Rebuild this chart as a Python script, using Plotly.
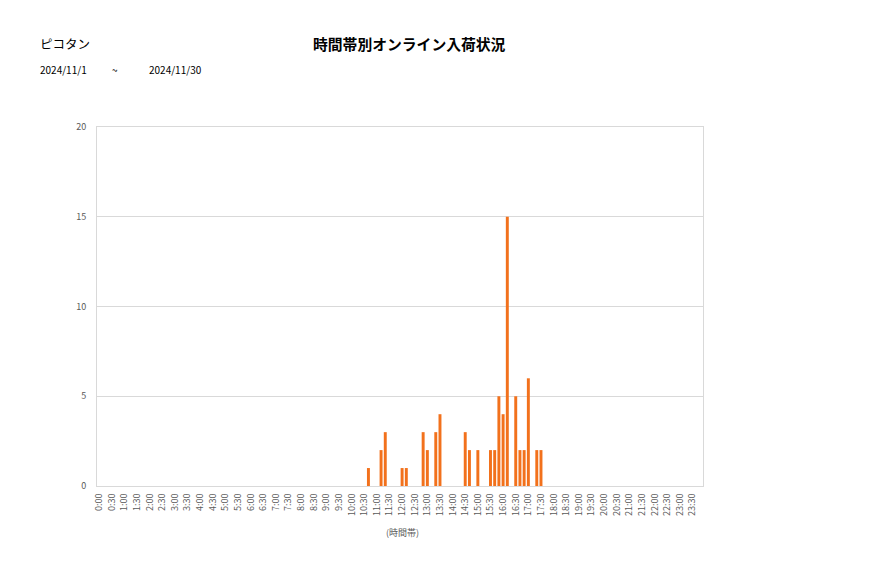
import plotly.graph_objects as go

# 10-minute slots for the whole day
slots = [f"{h}:{m:02d}" for h in range(24) for m in range(0, 60, 10)]
tick_labels = [f"{h}:{m:02d}" for h in range(24) for m in (0, 30)]

# observed non-zero slots and counts
times = ["10:40", "11:10", "11:20", "12:00", "12:10", "12:50", "13:00", "13:20",
         "13:30", "14:30", "14:40", "15:00", "15:30", "15:40", "15:50", "16:00",
         "16:10", "16:30", "16:40", "16:50", "17:00", "17:20", "17:30"]
counts = [1, 2, 3, 1, 1, 3, 2, 3,
          4, 3, 2, 2, 2, 2, 5, 4,
          15, 5, 2, 2, 6, 2, 2]

lookup = dict(zip(times, counts))
values = [lookup.get(s, 0) for s in slots]

FONT = "Noto Sans CJK JP"
L, R, T, B = 97, 703, 127, 486
W, H = 877, 578
pw, ph = R - L, B - T

def px(x):
    return (x - L) / pw

def py(y):
    return (B - y) / ph

fig = go.Figure(go.Bar(x=slots, y=values, marker=dict(color="#F2711C", line=dict(width=0)),
                       hoverinfo="x+y"))

fig.update_layout(
    width=W, height=H,
    margin=dict(l=L, r=W - R, t=T, b=H - B),
    paper_bgcolor="white", plot_bgcolor="white",
    bargap=0.3,
    showlegend=False,
    font=dict(family=FONT, color="#595959"),
    xaxis=dict(
        type="category", categoryorder="array", categoryarray=slots,
        tickmode="array", tickvals=tick_labels, ticktext=tick_labels,
        tickangle=-90, tickfont=dict(size=9, color="#595959"),
        showgrid=False, showline=True, linecolor="#D9D9D9", linewidth=1, mirror=True,
        ticks="", ticklabelstandoff=3,
    ),
    yaxis=dict(
        range=[0, 20], dtick=5, tickfont=dict(size=9, color="#595959"),
        showgrid=True, gridcolor="#D9D9D9", gridwidth=1,
        showline=True, linecolor="#D9D9D9", linewidth=1, mirror=True,
        zeroline=False, ticks="", ticklabelstandoff=8,
    ),
    annotations=[
        dict(text="ピコタン", x=px(38), y=py(43), xref="paper", yref="paper",
             xanchor="left", yanchor="middle", showarrow=False,
             font=dict(size=12.5, color="#000000", family=FONT)),
        dict(text="<b>時間帯別オンライン入荷状況</b>", x=px(409), y=py(43), xref="paper", yref="paper",
             xanchor="center", yanchor="middle", showarrow=False,
             font=dict(size=14.8, color="#000000", family=FONT)),
        dict(text="2024/11/1", x=px(38), y=py(70), xref="paper", yref="paper",
             xanchor="left", yanchor="middle", showarrow=False,
             font=dict(size=10, color="#000000", family=FONT)),
        dict(text="~", x=px(115), y=py(70), xref="paper", yref="paper",
             xanchor="center", yanchor="middle", showarrow=False,
             font=dict(size=10, color="#000000", family=FONT)),
        dict(text="2024/11/30", x=px(147), y=py(70), xref="paper", yref="paper",
             xanchor="left", yanchor="middle", showarrow=False,
             font=dict(size=10, color="#000000", family=FONT)),
        dict(text="(時間帯)", x=px(402), y=py(532), xref="paper", yref="paper",
             xanchor="center", yanchor="middle", showarrow=False,
             font=dict(size=9, color="#595959", family=FONT)),
    ],
)

fig.write_html("out.html")
